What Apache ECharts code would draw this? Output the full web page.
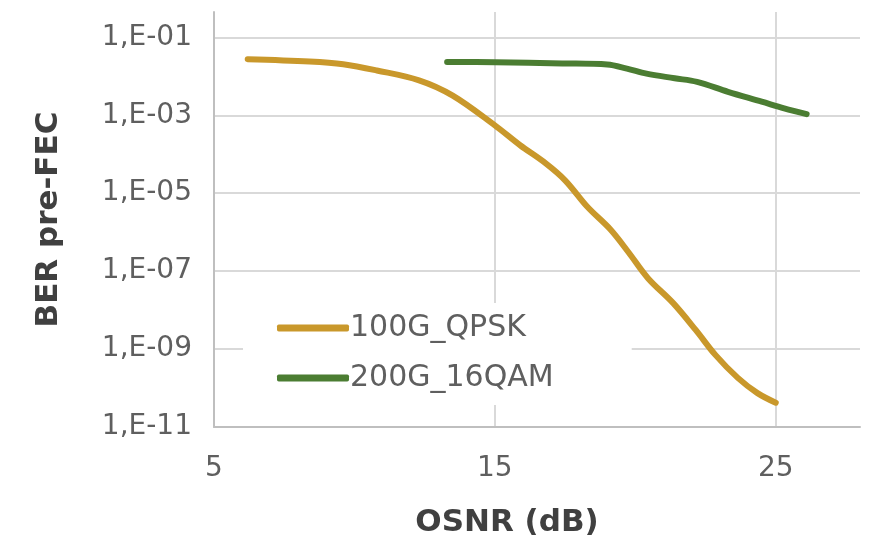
<!DOCTYPE html>
<html>
<head>
<meta charset="utf-8">
<script src="https://cdn.jsdelivr.net/npm/echarts@6/dist/echarts.min.js"></script>
<style>
  html, body { margin: 0; padding: 0; background: #fff; }
  #chart { width: 871px; height: 549px; }
</style>
</head>
<body>
<div id="chart"></div>
<script>
// OSNR in dB
const osnrQpsk = [6.2, 8.4, 9.6, 10.8, 12.3, 13.5, 15.0, 15.9, 16.8, 17.5, 18.3, 19.1, 19.75, 20.45, 21.35, 22.15, 22.85, 23.65, 24.35, 25.0];
// pre-FEC bit error rate
const berQpsk = [2.75e-2, 2.4e-2, 2.04e-2, 1.41e-2, 7.9e-3, 3.2e-3, 5.5e-4, 1.7e-4, 5.9e-5, 2.14e-5, 4.4e-6, 1.2e-6, 3.1e-7, 6.6e-8, 1.51e-8, 3.1e-9, 7.1e-10, 1.82e-10, 7.4e-11, 4.2e-11];

const osnr16qam = [13.3, 15.0, 17.4, 19.0, 19.7, 20.4, 21.4, 22.2, 23.3, 24.5, 25.3, 26.1];
const ber16qam = [2.34e-2, 2.29e-2, 2.14e-2, 2.0e-2, 1.58e-2, 1.17e-2, 8.9e-3, 7.2e-3, 4.0e-3, 2.24e-3, 1.51e-3, 1.07e-3];

const seriesNames = ['100G_QPSK', '200G_16QAM'];
const seriesColors = ['#c9982b', '#4b7d32'];
const xTicks = [5, 15, 25];
const yTickExponents = [-11, -9, -7, -5, -3, -1];

// the value axis runs in decades (log10 of BER)
const toPoints = (xs, ys) => xs.map((x, i) => [x, Math.log10(ys[i])]);
const expLabel = v => '1,E-' + String(Math.round(-v)).padStart(2, '0');

const FONT = '"DejaVu Sans", sans-serif';

const chart = echarts.init(document.getElementById('chart'));
chart.setOption({
  animation: false,
  backgroundColor: '#ffffff',
  grid: { left: 214, right: 11, top: 12, bottom: 122 },
  xAxis: {
    type: 'value',
    min: 5, max: 28, interval: 10,
    name: 'OSNR (dB)',
    nameLocation: 'middle',
    nameGap: 80,
    nameTextStyle: { fontFamily: FONT, fontSize: 31, fontWeight: 'bold', color: '#404040', padding: [0, 60, 0, 0] },
    axisLine: { show: true, lineStyle: { color: '#bfbfbf', width: 2 } },
    axisTick: { show: false, customValues: xTicks },
    axisLabel: { customValues: xTicks, margin: 28, fontFamily: FONT, fontSize: 28, color: '#5f5f5f' },
    splitLine: { show: true, lineStyle: { color: '#d9d9d9', width: 2 } }
  },
  yAxis: {
    type: 'value',
    min: -11, max: -0.35, interval: 2,
    name: 'BER pre-FEC',
    nameLocation: 'middle',
    nameGap: 150,
    nameTextStyle: { fontFamily: FONT, fontSize: 31, fontWeight: 'bold', color: '#404040' },
    axisLine: { show: true, lineStyle: { color: '#bfbfbf', width: 2 } },
    axisTick: { show: false, customValues: yTickExponents },
    axisLabel: { customValues: yTickExponents, margin: 22, fontFamily: FONT, fontSize: 28, color: '#5f5f5f', formatter: expLabel },
    splitLine: { show: true, lineStyle: { color: '#d9d9d9', width: 2 } }
  },
  legend: {
    orient: 'vertical',
    left: 243, top: 303,
    padding: [10, 78, 12, 34],
    backgroundColor: '#ffffff',
    itemWidth: 72, itemHeight: 7, itemGap: 20,
    icon: 'roundRect',
    textStyle: { fontFamily: FONT, fontSize: 30, color: '#5f5f5f', lineHeight: 30, padding: [0, 0, 0, -4] },
    data: seriesNames
  },
  series: seriesNames.map((name, i) => ({
    name: name, type: 'line', smooth: 0.35, symbol: 'none',
    lineStyle: { color: seriesColors[i], width: 6, cap: 'round' },
    itemStyle: { color: seriesColors[i] },
    data: i === 0 ? toPoints(osnrQpsk, berQpsk) : toPoints(osnr16qam, ber16qam)
  }))
});
</script>
</body>
</html>
